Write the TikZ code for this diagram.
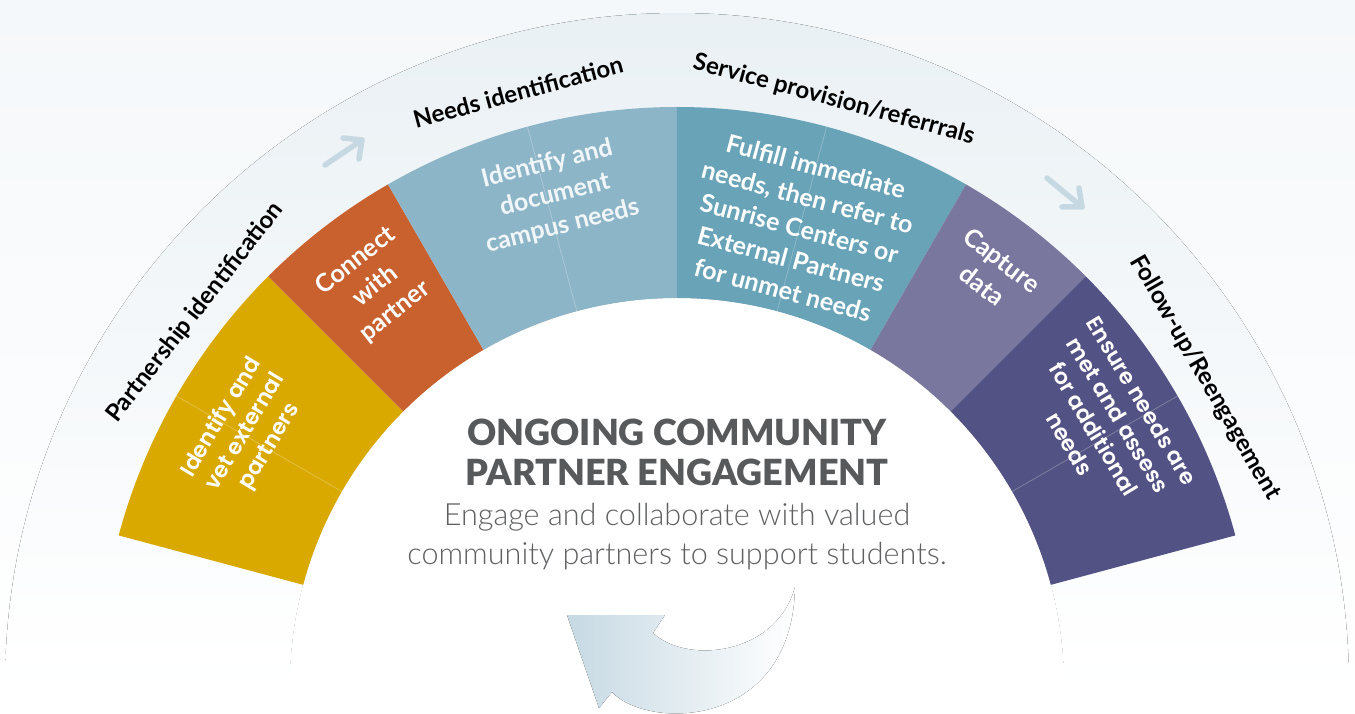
\documentclass[tikz,border=0pt]{standalone}
\usepackage{fontspec}
\setmainfont{Lato}
\newfontfamily\popfont{Poppins SemiBold}
\newfontfamily\heavyfont{Lato Black}
\newfontfamily\lightfont{Lato Light}
\definecolor{bgtop}{HTML}{F5F8FA}
\definecolor{bandtop}{HTML}{E9F0F4}
\definecolor{partnergold}{HTML}{DAA900}
\definecolor{connectorange}{HTML}{C9612F}
\definecolor{needsblue}{HTML}{8DB5C8}
\definecolor{serviceteal}{HTML}{68A3B7}
\definecolor{capturelilac}{HTML}{7A779F}
\definecolor{followpurple}{HTML}{535284}
\definecolor{arrowblue}{HTML}{C6D9E3}
\definecolor{titlegray}{HTML}{58595B}
\definecolor{subgray}{HTML}{5F6062}

\begin{document}
\begin{tikzpicture}[x=0.5pt,y=0.5pt]
\tikzset{seglabel/.style={text=white, align=center, font=\bfseries\fontsize{12.5}{16}\selectfont},
  poplabel/.style={text=white, align=center, font=\popfont\fontsize{11}{14}\selectfont},
  stagelabel/.style={text=black, font=\bfseries\fontsize{12}{14}\selectfont},
  divider/.style={white, opacity=0.25, line width=0.4pt},
  tinyarrow/.style={draw=arrowblue, line width=2.75pt, line cap=round, line join=round}}
\useasboundingbox (-677,-28) rectangle (678,685);
\fill[top color=bgtop, bottom color=white] (-677,-28) rectangle (678,685);
\fill[top color=bandtop, bottom color=white] (1.88:672) arc[start angle=1.88, end angle=178.12, radius=672] -- (176.74:387) arc[start angle=176.74, end angle=3.26, radius=387] -- cycle;
\fill[white] (0,0) circle[radius=387];
\fill[partnergold] (165:387) arc[start angle=165, end angle=135, radius=387] -- (135:578) arc[start angle=135, end angle=165, radius=578] -- cycle;
\fill[connectorange] (135:387) arc[start angle=135, end angle=120, radius=387] -- (120:578) arc[start angle=120, end angle=135, radius=578] -- cycle;
\fill[needsblue] (120:387) arc[start angle=120, end angle=90, radius=387] -- (90:578) arc[start angle=90, end angle=120, radius=578] -- cycle;
\fill[serviceteal] (90:387) arc[start angle=90, end angle=60, radius=387] -- (60:578) arc[start angle=60, end angle=90, radius=578] -- cycle;
\fill[capturelilac] (60:387) arc[start angle=60, end angle=45, radius=387] -- (45:578) arc[start angle=45, end angle=60, radius=578] -- cycle;
\fill[followpurple] (45:387) arc[start angle=45, end angle=15, radius=387] -- (15:578) arc[start angle=15, end angle=45, radius=578] -- cycle;
\draw[divider] (150:387) -- (150:578);
\draw[divider] (105:387) -- (105:578);
\draw[divider] (75:387) -- (75:578);
\draw[divider] (30:387) -- (30:578);
\coordinate (upstart) at (-352,520);
\coordinate (uptip) at (-315,545);
\coordinate (upleft) at (-334,547);
\coordinate (updown) at (-318,526);
\coordinate (downstart) at (370,507);
\coordinate (downtip) at (405,478);
\coordinate (downup) at (402,497);
\coordinate (downleft) at (385,478);
\draw[tinyarrow] (upstart) -- (uptip);
\draw[tinyarrow] (upleft) -- (uptip) -- (updown);
\draw[tinyarrow] (downstart) -- (downtip);
\draw[tinyarrow] (downup) -- (downtip) -- (downleft);
\fill[left color=arrowblue, right color=white] (118,98) .. controls (100,30) and (10,20) .. (-24,52) -- (-12,70) -- (-110,70) -- (-78,-23) -- (-65,-7) .. controls (-30,-45) and (115,-45) .. (118,98) -- cycle;
\node[stagelabel, rotate=52] (partnership) at (142.3:609) {Partnership identification};
\node[stagelabel, rotate=15] (needs) at (105:614) {Needs identification};
\node[stagelabel, rotate=-15] (service) at (75:606) {Service provision/referrrals};
\node[stagelabel, rotate=-60] (followup) at (30.2:611) {Follow-up/Reengagement};
\node[poplabel, rotate=59] (vet) at (149.6:500) {Identify and\\vet external\\partners};
\node[seglabel, rotate=38] (connect) at (127.1:500) {Connect\\with\\partner};
\node[seglabel, rotate=14, text=white!88!needsblue] (document) at (104:505) {Identify and\\document\\campus needs};
\node[seglabel, rotate=-15] (fulfill) at (75:473) {Fulfill immediate\\needs, then refer to\\Sunrise Centers or\\External Partners\\for unmet needs};
\node[seglabel, rotate=-37.5] (capture) at (52.6:519) {Capture\\data};
\node[poplabel, rotate=-59] (ensure) at (31.5:503) {Ensure needs are\\met and assess\\for additional\\needs};
\node[text=titlegray, align=center, font=\heavyfont\fontsize{18}{20}\selectfont] (ongoing) at (0,233) {ONGOING COMMUNITY\\PARTNER ENGAGEMENT};
\node[text=subgray, align=center, font=\lightfont\fontsize{15.3}{19.5}\selectfont] (engage) at (0,148) {Engage and collaborate with valued\\community partners to support students.};
\end{tikzpicture}
\end{document}
